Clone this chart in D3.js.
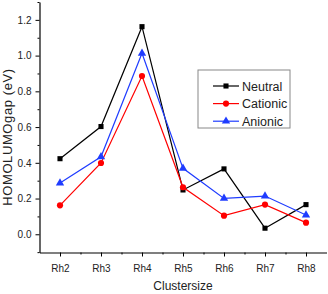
<!DOCTYPE html>
<html>
<head>
<meta charset="utf-8">
<script src="https://cdn.jsdelivr.net/npm/d3@7"></script>
<style>
  body { margin: 0; background: #fff; }
  svg { display: block; font-family: "Liberation Sans", Arial, sans-serif; }
</style>
</head>
<body>
<svg id="chart" width="328" height="294"></svg>
<script>
// data
const clusters = ["Rh2", "Rh3", "Rh4", "Rh5", "Rh6", "Rh7", "Rh8"];
const sizes = [2, 3, 4, 5, 6, 7, 8];
const neutral = [0.423, 0.603, 1.162, 0.248, 0.366, 0.034, 0.166];
const cationic = [0.162, 0.399, 0.886, 0.263, 0.104, 0.166, 0.065];
const anionic = [0.287, 0.434, 1.013, 0.369, 0.201, 0.214, 0.108];
const yTicks = [0.0, 0.2, 0.4, 0.6, 0.8, 1.0, 1.2];
const yMinor = [-0.1, 0.1, 0.3, 0.5, 0.7, 0.9, 1.1, 1.3];
const xMinor = [2.5, 3.5, 4.5, 5.5, 6.5, 7.5];

const series = [
  { name: "Neutral", values: neutral, color: "#000000", symbol: d3.symbolSquare, size: 26 },
  { name: "Cationic", values: cationic, color: "#ff0000", symbol: d3.symbolCircle, size: 30 },
  { name: "Anionic", values: anionic, color: "#1f3cff", symbol: d3.symbolTriangle, size: 30 }
];

const svg = d3.select("#chart");

const x = d3.scaleLinear().domain([1.5, 8.5]).range([39.5, 326.5]);
const y = d3.scaleLinear().domain([-0.102, 1.3]).range([252.5, 2]);

// axes
const gx = svg.append("g").attr("transform", "translate(0,252.5)");
gx.call(d3.axisBottom(x).tickValues(sizes).tickSize(4).tickSizeOuter(0)
  .tickFormat((d, i) => clusters[i]));
gx.append("g").call(d3.axisBottom(x).tickValues(xMinor).tickSize(2).tickFormat(""))
  .select(".domain").remove();
gx.selectAll("text").attr("y", 12).style("font-size", "10px").attr("fill", "#222")
  .attr("font-family", "'Liberation Sans Narrow', 'Liberation Sans', Arial, sans-serif");

const gy = svg.append("g").attr("transform", "translate(39.5,0)");
gy.call(d3.axisLeft(y).tickValues(yTicks).tickSize(4).tickSizeOuter(0)
  .tickFormat(d3.format(".1f")));
gy.append("g").call(d3.axisLeft(y).tickValues(yMinor).tickSize(2).tickFormat(""))
  .select(".domain").remove();
gy.selectAll("text").attr("x", -8).style("font-size", "10px").attr("fill", "#222")
  .attr("font-family", "'Liberation Sans Narrow', 'Liberation Sans', Arial, sans-serif");

svg.selectAll(".domain").attr("stroke-width", 1.2);

// axis titles
svg.append("text")
  .attr("transform", "translate(12,137) rotate(-90)")
  .attr("text-anchor", "middle")
  .style("font-size", "13px").style("letter-spacing", "0.6px")
  .attr("fill", "#222")
  .text("HOMOLUMOgap (eV)");

svg.append("text")
  .attr("x", 183).attr("y", 290)
  .attr("text-anchor", "middle")
  .style("font-size", "12px").attr("fill", "#222")
  .text("Clustersize");

// lines and markers
const line = d3.line().x((d, i) => x(sizes[i])).y(d => y(d));

series.forEach(s => {
  svg.append("path")
    .attr("d", line(s.values))
    .attr("fill", "none")
    .attr("stroke", s.color)
    .attr("stroke-width", 1.2);
  svg.selectAll(null).data(s.values).enter().append("path")
    .attr("d", d3.symbol().type(s.symbol).size(s.size))
    .attr("transform", (d, i) => `translate(${x(sizes[i])},${y(d)})`)
    .attr("fill", s.color);
});

// legend
const lg = svg.append("g").attr("transform", "translate(198,70)");
lg.append("rect").attr("width", 92).attr("height", 58)
  .attr("fill", "#fff").attr("stroke", "#888").attr("stroke-width", 1);
series.forEach((s, i) => {
  const yy = 16 + i * 17.6;
  lg.append("line").attr("x1", 15).attr("x2", 41).attr("y1", yy).attr("y2", yy)
    .attr("stroke", s.color).attr("stroke-width", 1.2);
  lg.append("path").attr("d", d3.symbol().type(s.symbol).size(s.size))
    .attr("transform", `translate(28,${yy})`).attr("fill", s.color);
  lg.append("text").attr("x", 44).attr("y", yy + 4.5)
    .style("font-size", "12.5px").attr("fill", "#222").text(s.name);
});
</script>
</body>
</html>
